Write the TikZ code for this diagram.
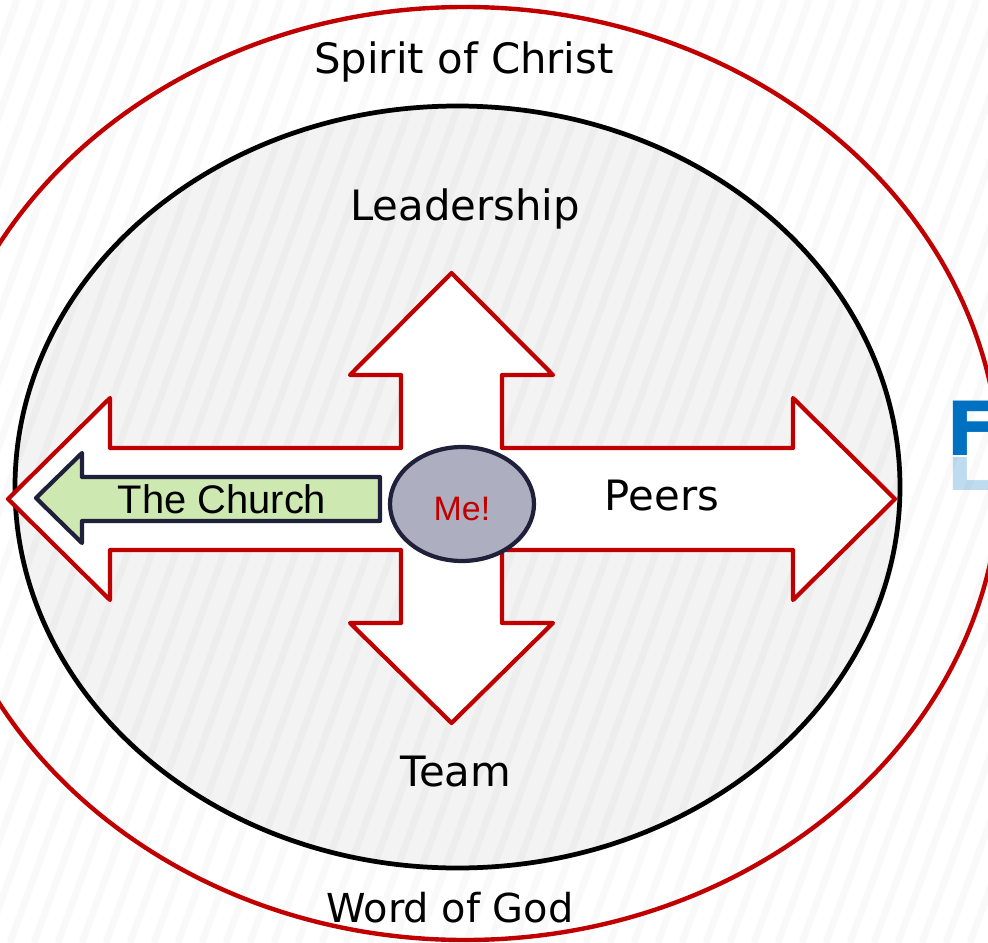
\documentclass[tikz,border=0pt]{standalone}
\usepackage{fontspec}
\setmainfont{DejaVu Sans}
\newfontfamily\arialfont{Liberation Sans}
\usetikzlibrary{shapes.geometric}
\definecolor{darkred}{HTML}{C00000}
\definecolor{navyline}{HTML}{1F2039}
\definecolor{churchgreen}{HTML}{CDE8B0}
\definecolor{megray}{HTML}{ADAEC0}
\definecolor{titleblue}{HTML}{0070C0}
\definecolor{innerfill}{HTML}{F3F3F3}
\begin{document}
\begin{tikzpicture}[x=0.02cm,y=-0.02cm,
  lbl/.style={anchor=base, inner sep=0pt, font=\fontsize{23.8}{28}\selectfont},
  redline/.style={draw=darkred, line width=2.4pt, line join=round},
  navyl/.style={draw=navyline, line width=2.4pt, line join=round}]
\useasboundingbox (0,0) rectangle (988,943);
\clip (0,0) rectangle (988,943);
\fill[white] (0,0) rectangle (988,943);
% inner fill
\fill[innerfill] (457.5,487) ellipse [x radius=442.5, y radius=381];
% faint stripes
\foreach \k in {0,...,56} {
  \draw[black, opacity=0.025, line width=4pt] (-350+\k*24, 943) -- (-7+\k*24, 0);
}
% background title fragment
\node[anchor=base west, inner sep=0pt, text=titleblue, font=\bfseries\fontsize{42.5}{50}\selectfont] (ftext) at (946,455) {F};
\begin{scope}
  \clip (900,457) rectangle (988,489);
  \begin{scope}[shift={(0,457)}, yscale=-1]
    \node[transform shape, anchor=base west, inner sep=0pt, text=titleblue, opacity=0.25, font=\bfseries\fontsize{42.5}{50}\selectfont] (fshadow) at (946,0) {F};
  \end{scope}
\end{scope}
% ellipses
\draw[darkred, line width=2.5pt] (465,473.5) ellipse [x radius=535, y radius=466.5];
\draw[black, line width=2.7pt] (457.5,487) ellipse [x radius=442.5, y radius=381];
% four-way arrow
\draw[redline, fill=white]
  (451.5,273) -- (553,375) -- (502,375) -- (502,448) -- (793,448) -- (793,398)
  -- (895,499) -- (793,600) -- (793,550) -- (502,550) -- (502,623) -- (553,623)
  -- (451.5,723) -- (350,623) -- (401,623) -- (401,550) -- (110,550) -- (110,600)
  -- (8,499) -- (110,398) -- (110,448) -- (401,448) -- (401,375) -- (350,375) -- cycle;
% church arrow
\draw[navyl, fill=churchgreen]
  (36,498) -- (82,453) -- (82,477) -- (380,477) -- (380,521) -- (82,521) -- (82,543) -- cycle;
\node[anchor=base, inner sep=0pt, font=\arialfont\fontsize{22.7}{27}\selectfont] (church) at (222,513) {The Church};
% me
\node[ellipse, navyl, fill=megray, minimum width=2.88cm, minimum height=2.28cm, inner sep=0pt] (me) at (462,504) {};
\node[anchor=base, inner sep=0pt, text=darkred, font=\arialfont\fontsize{19.3}{23}\selectfont] (metext) at (462,520) {Me!};
% labels
\node[lbl] (spirit) at (464,73) {Spirit of Christ};
\node[lbl] (leadership) at (465,220) {Leadership};
\node[lbl] (peers) at (662,510) {Peers};
\node[lbl] (team) at (456,786) {Team};
\node[lbl, font=\fontsize{22.7}{27}\selectfont] (word) at (450,922) {Word of God};
\end{tikzpicture}
\end{document}
